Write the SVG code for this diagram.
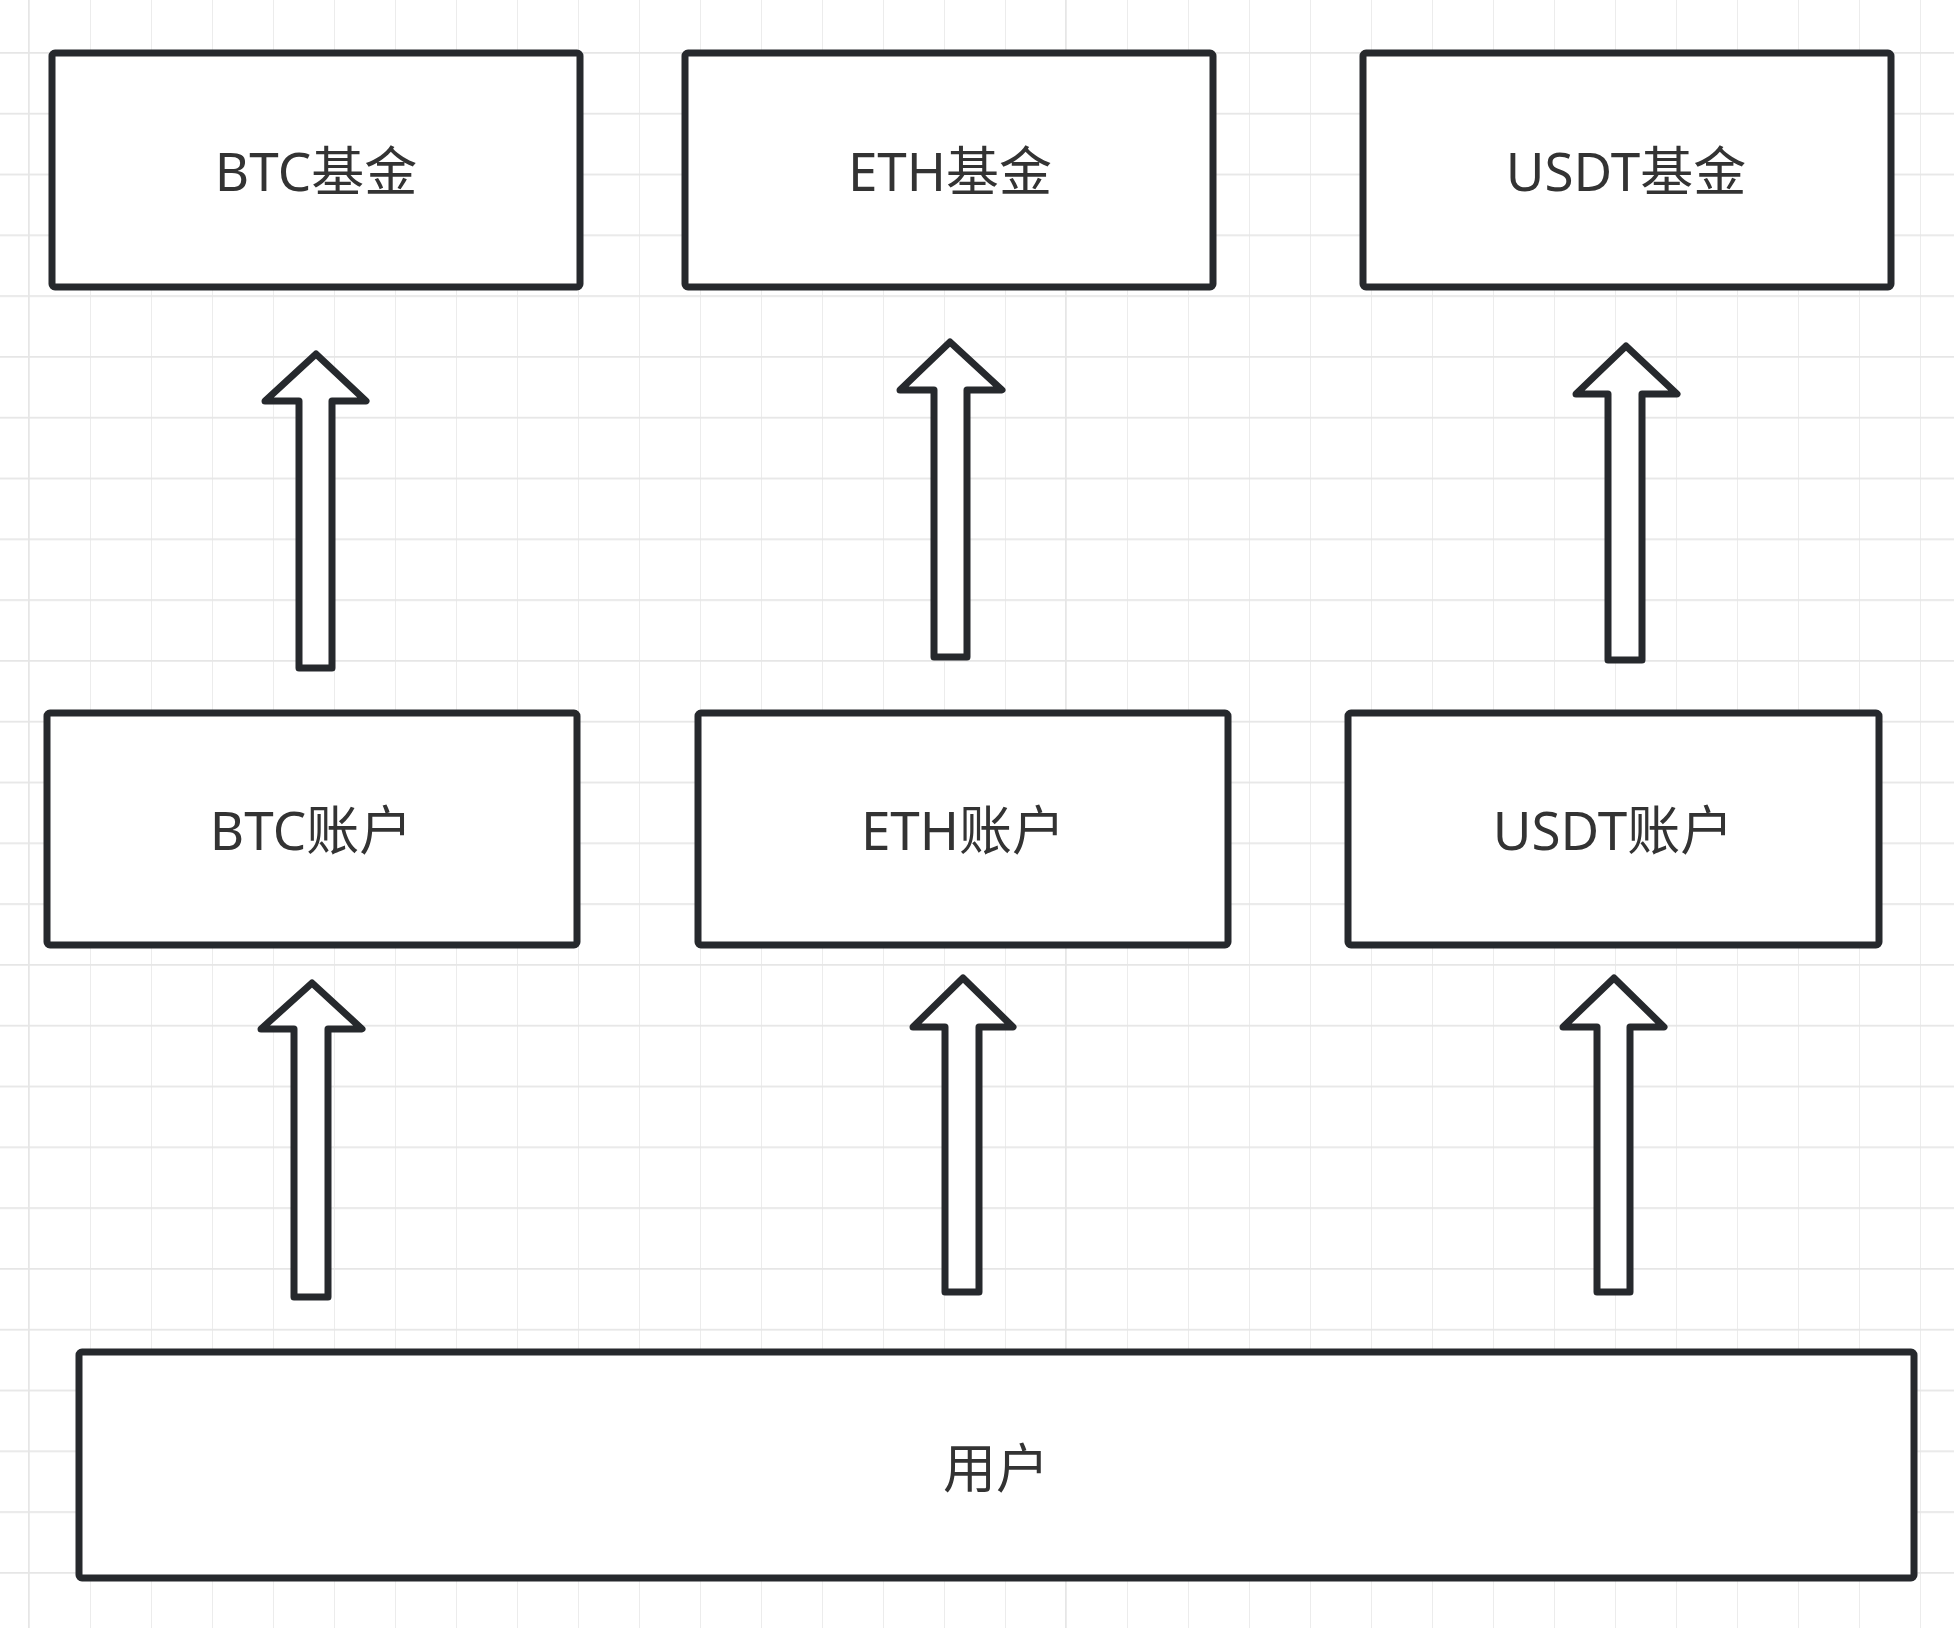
<svg xmlns="http://www.w3.org/2000/svg" width="1954" height="1628" viewBox="0 0 1954 1628">
<defs>
<pattern id="grid" x="28" y="-8.8" width="61" height="60.8" patternUnits="userSpaceOnUse">
<path d="M0,0 V60.8 M0,0 H61" fill="none" stroke="#e6e6e6" stroke-width="3.5"/>
</pattern>
</defs>
<style>
.box{fill:#ffffff;stroke:#26292d;stroke-width:7;stroke-linejoin:round}
.arrow{fill:#ffffff;stroke:#26292d;stroke-width:7;stroke-linejoin:round}
.lbl{font-family:"Noto Sans","Noto Sans CJK SC",sans-serif;font-size:53px;fill:#333333;text-anchor:middle;dominant-baseline:central}
</style>
<rect x="0" y="0" width="1954" height="1628" fill="#ffffff"/>
<rect x="0" y="0" width="1954" height="1628" fill="url(#grid)"/>
<g id="connectors">
<path class="arrow" d="M299,668 L299,401 L265,401 L316,354 L366,401 L332,401 L332,668 Z"/>
<path class="arrow" d="M934,657 L934,390 L900,390 L950,342 L1002,390 L967,390 L967,657 Z"/>
<path class="arrow" d="M1608,660 L1608,394 L1576,394 L1626,346 L1677,394 L1642,394 L1642,660 Z"/>
<path class="arrow" d="M294,1297 L294,1029 L261,1029 L312,983 L362,1029 L328,1029 L328,1297 Z"/>
<path class="arrow" d="M945,1292 L945,1027 L913,1027 L963,978 L1013,1027 L979,1027 L979,1292 Z"/>
<path class="arrow" d="M1597,1292 L1597,1027 L1563,1027 L1614,978 L1664,1027 L1630,1027 L1630,1292 Z"/>
</g>
<g id="btc-fund">
<rect class="box" x="52" y="53" width="528" height="234" rx="3"/>
<text class="lbl" x="316" y="170">BTC基金</text>
</g>
<g id="eth-fund">
<rect class="box" x="685" y="53" width="528" height="234" rx="3"/>
<text class="lbl" x="950" y="170">ETH基金</text>
</g>
<g id="usdt-fund">
<rect class="box" x="1363" y="53" width="528" height="234" rx="3"/>
<text class="lbl" x="1626" y="170">USDT基金</text>
</g>
<g id="btc-account">
<rect class="box" x="47" y="713" width="530" height="232" rx="3"/>
<text class="lbl" x="311" y="829">BTC账户</text>
</g>
<g id="eth-account">
<rect class="box" x="698" y="713" width="530" height="232" rx="3"/>
<text class="lbl" x="963" y="829">ETH账户</text>
</g>
<g id="usdt-account">
<rect class="box" x="1348" y="713" width="531" height="232" rx="3"/>
<text class="lbl" x="1613" y="829">USDT账户</text>
</g>
<g id="user">
<rect class="box" x="79" y="1352" width="1835" height="226" rx="3"/>
<text class="lbl" x="996" y="1467">用户</text>
</g>
</svg>
